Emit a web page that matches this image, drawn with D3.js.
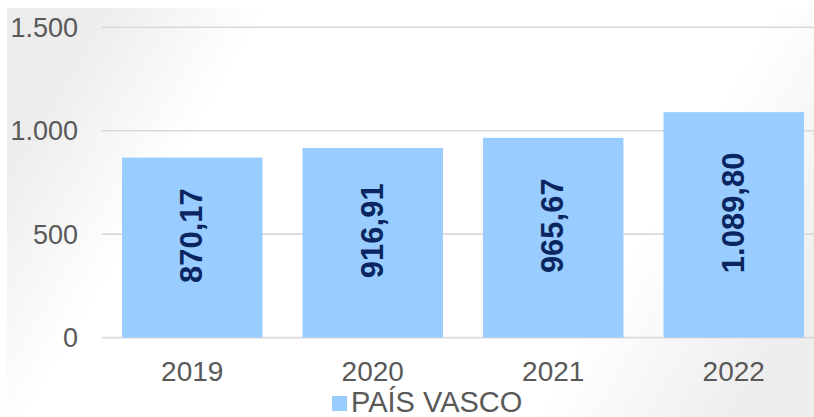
<!DOCTYPE html>
<html>
<head>
<meta charset="utf-8">
<script src="https://cdn.jsdelivr.net/npm/d3@7"></script>
<style>
body { margin: 0; background: #fff; }
svg { display: block; font-family: "Liberation Sans", Arial, sans-serif; }
</style>
</head>
<body>
<div id="chart"></div>
<script>
const years = ['2019', '2020', '2021', '2022'];
const values = [870.17, 916.91, 965.67, 1089.80];
const yTicks = [0, 500, 1000, 1500];
const seriesName = 'PAÍS VASCO';

const width = 814, height = 417;

const fmt = d3.formatLocale({decimal: ',', thousands: '.', grouping: [3], currency: ['', '']});
const fmtLabel = fmt.format(',.2f');
const fmtTick = fmt.format(',.0f');

const svg = d3.select('#chart')
.append('svg')
.attr('width', width)
.attr('height', height)

const defs = svg.append('defs')
const grad = defs.append('linearGradient')
.attr('id', 'bg')
.attr('x1', '0%').attr('y1', '35%')
.attr('x2', '100%').attr('y2', '65%')

grad.append('stop').attr('offset', '0%').attr('stop-color', '#ececec')
grad.append('stop').attr('offset', '20%').attr('stop-color', '#ffffff')
grad.append('stop').attr('offset', '78%').attr('stop-color', '#ffffff')
grad.append('stop').attr('offset', '100%').attr('stop-color', '#eeeeee')

svg.append('rect')
.attr('x', 7)
.attr('y', 8)
.attr('width', width - 7)
.attr('height', height - 8)
.attr('fill', 'url(#bg)')

const xScale = d3.scaleBand()
.domain(years)
.range([102, 824])
.paddingInner(0.222)
.paddingOuter(0.111)

const yScale = d3.scaleLinear()
.domain([0, 1500])
.range([337.6, 27.3])

// gridlines
svg.append('g')
.selectAll('line')
.data(yTicks)
.enter()
.append('line')
.attr('x1', 102)
.attr('x2', width)
.attr('y1', d => yScale(d))
.attr('y2', d => yScale(d))
.attr('stroke', '#d9d9d9')
.attr('stroke-width', 1.6)

// y labels
svg.append('g')
.selectAll('text')
.data(yTicks)
.enter()
.append('text')
.attr('x', 78)
.attr('y', d => yScale(d))
.attr('dy', '0.35em')
.attr('text-anchor', 'end')
.attr('fill', '#595959')
.style('font-size', '27px')
.text(d => fmtTick(d))

// bars
svg.append('g')
.selectAll('rect')
.data(values)
.enter()
.append('rect')
.attr('x', (d, i) => xScale(years[i]))
.attr('y', d => yScale(d))
.attr('width', xScale.bandwidth())
.attr('height', d => yScale(0) - yScale(d))
.attr('fill', '#99ccff')

// value labels
svg.append('g')
.selectAll('text')
.data(values)
.enter()
.append('text')
.attr('transform', (d, i) => {
	let cx = xScale(years[i]) + xScale.bandwidth() / 2 - 1;
	let cy = (yScale(d) + yScale(0)) / 2 - 12;
	return `translate(${cx},${cy}) rotate(-90)`
})
.attr('text-anchor', 'middle')
.attr('dy', '0.36em')
.attr('fill', '#0a2660')
.style('font-size', '31px')
.style('font-weight', 'bold')
.text(d => fmtLabel(d))

// x labels
svg.append('g')
.selectAll('text')
.data(years)
.enter()
.append('text')
.attr('x', d => xScale(d) + xScale.bandwidth() / 2)
.attr('y', 381)
.attr('text-anchor', 'middle')
.attr('fill', '#595959')
.style('font-size', '28px')
.text(d => d)

// legend
const legend = svg.append('g')

legend.append('rect')
.attr('x', 332)
.attr('y', 396)
.attr('width', 15)
.attr('height', 15)
.attr('fill', '#99ccff')

legend.append('text')
.attr('x', 351)
.attr('y', 412)
.attr('fill', '#595959')
.style('font-size', '29px')
.text(seriesName)
</script>
</body>
</html>
